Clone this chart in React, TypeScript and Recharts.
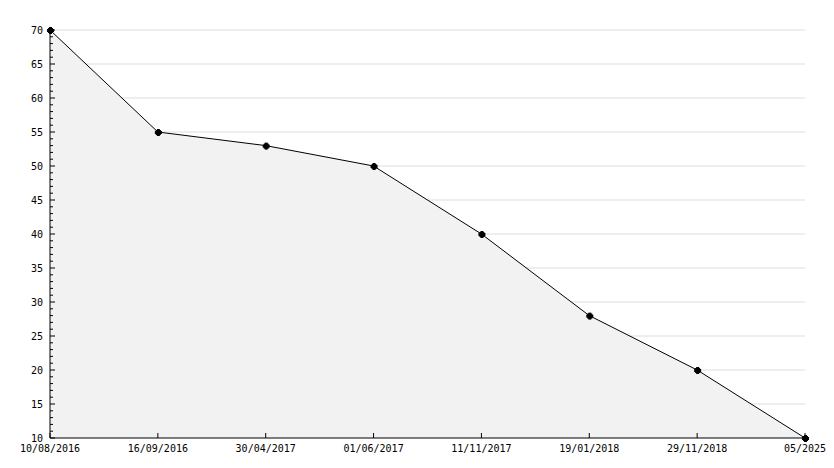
import { AreaChart, Area, XAxis, YAxis, ReferenceLine } from 'recharts'

const dates = [
  '10/08/2016',
  '16/09/2016',
  '30/04/2017',
  '01/06/2017',
  '11/11/2017',
  '19/01/2018',
  '29/11/2018',
  '05/2025',
]
const values = [70, 55, 53, 50, 40, 28, 20, 10]
const gridValues = [15, 20, 25, 30, 35, 40, 45, 50, 55, 60, 65, 70]
const allTicks = Array.from({ length: 61 }, (_, i) => 10 + i)

const data = dates.map((d, i) => ({ date: d, value: values[i] }))

const font = { fontFamily: 'DejaVu Sans Mono', fontSize: 10, fill: '#000' }

function YTick({ x, y, payload }: any) {
  const major = payload.value % 5 === 0
  return (
    <g>
      <line x1={x} x2={x + (major ? 5 : 3)} y1={y} y2={y} stroke="#000" />
      {major && (
        <text x={x - 7} y={y} dy={4} textAnchor="end" {...font}>
          {payload.value}
        </text>
      )}
    </g>
  )
}

function XTick({ x, y, payload }: any) {
  return (
    <g>
      <line x1={x} x2={x} y1={y} y2={y - 5} stroke="#000" />
      <text x={x} y={y} dy={14} textAnchor="middle" {...font}>
        {payload.value}
      </text>
    </g>
  )
}

function StarDot({ cx, cy }: any) {
  if (cx == null || cy == null) return null
  return (
    <g>
      <rect x={cx - 2} y={cy - 2} width={5} height={5} fill="#000" />
      <rect x={cx - 3} y={cy - 1} width={7} height={3} fill="#000" />
      <rect x={cx - 1} y={cy - 3} width={3} height={7} fill="#000" />
    </g>
  )
}

export default function App() {
  return (
    <div style={{ position: 'absolute', left: 0, top: 0, background: '#fff' }}>
      <AreaChart
        width={834}
        height={468}
        data={data}
        margin={{ top: 30, right: 29, bottom: 0, left: 0 }}
      >
        {gridValues.map((v) => (
          <ReferenceLine key={v} y={v} stroke="#dddddd" zIndex={-100} />
        ))}
        <XAxis
          dataKey="date"
          tickSize={0}
          tickMargin={0}
          tickLine={false}
          tick={<XTick />}
          axisLine={{ stroke: '#000' }}
          height={30}
          interval={0}
        />
        <YAxis
          domain={[10, 70]}
          ticks={allTicks}
          interval={0}
          tickSize={0}
          tickMargin={0}
          tickLine={false}
          tick={<YTick />}
          axisLine={{ stroke: '#000' }}
          width={50}
        />
        <Area
          type="linear"
          dataKey="value"
          stroke="#000"
          strokeWidth={1}
          fill="#f2f2f2"
          fillOpacity={1}
          baseValue="dataMin"
          dot={<StarDot />}
          activeDot={false}
          isAnimationActive={false}
        />
      </AreaChart>
    </div>
  )
}
